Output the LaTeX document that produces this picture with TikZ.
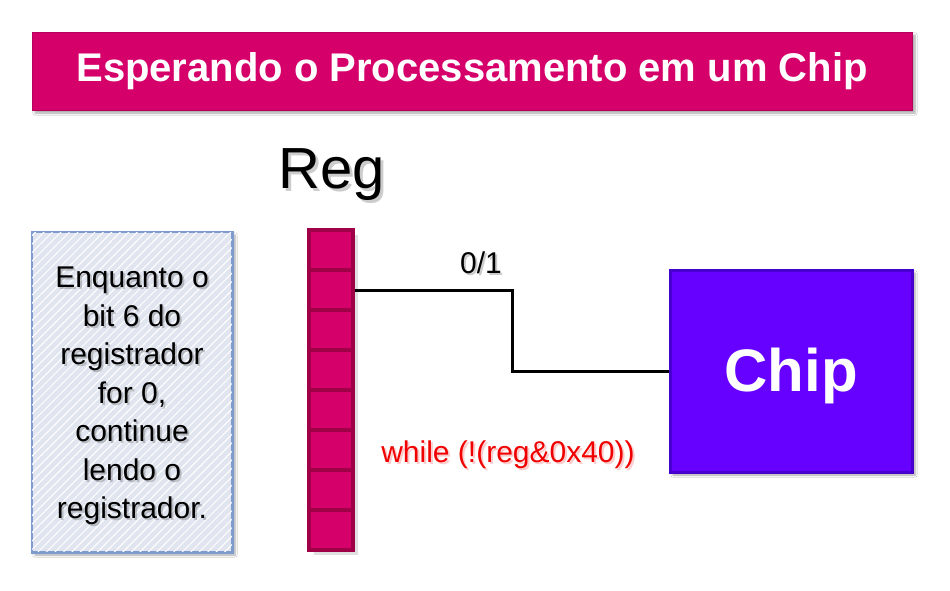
\documentclass[tikz,border=0pt]{standalone}
\usepackage{fontspec}
\setmainfont{Liberation Sans}
\usetikzlibrary{shadows.blur,patterns.meta}

\definecolor{magentaA}{RGB}{214,0,107}
\definecolor{magentaB}{RGB}{160,0,72}
\definecolor{chipfill}{RGB}{102,0,255}
\definecolor{chipedge}{RGB}{70,0,205}
\definecolor{notefill}{RGB}{224,229,240}
\definecolor{noteedge}{RGB}{128,156,205}
\definecolor{codered}{RGB}{240,0,0}

\tikzset{
  softshadow/.style={blur shadow={shadow xshift=3pt, shadow yshift=-3pt, shadow blur steps=6, shadow opacity=35}},
  titlebox/.style={rectangle, fill=magentaA, draw=magentaA!85!black, line width=1pt,
    minimum width=880, minimum height=78, text=white,
    font=\fontsize{40}{48}\selectfont\bfseries, softshadow},
  regcell/.style={rectangle, fill=magentaA, draw=magentaB, line width=4pt,
    minimum width=44, minimum height=40, inner sep=0pt},
  notebox/.style={rectangle, fill=notefill, draw=noteedge, line width=1.5pt,
    minimum width=200, minimum height=320, softshadow},
  chipbox/.style={rectangle, fill=chipfill, draw=chipedge, line width=3pt,
    minimum width=242, minimum height=202, softshadow},
  wire/.style={draw=black, line width=3pt},
  txtshadow/.style={text=black, opacity=0.2},
  bigfont/.style={font=\fontsize{58}{60}\selectfont},
  notefont/.style={align=center, font=\fontsize{30}{38.5}\selectfont},
  labelfont/.style={font=\fontsize{30}{36}\selectfont},
}

\begin{document}
\begin{tikzpicture}[x=1pt, y=-1pt]
  \useasboundingbox (0,0) rectangle (950,590);
  \fill[white] (0,0) rectangle (950,590);

  % title banner
  \node[titlebox] (title) at (472,71) {Esperando o Processamento em um Chip};

  % register caption, with a soft drop shadow
  \node[txtshadow, bigfont] at (335,178) {Reg};
  \node[bigfont] (reglabel) at (332,175) {Reg};

  % explanatory note with hatched fill
  \node[notebox] (note) at (132,392) {};
  \fill[pattern={Lines[angle=45, distance=6pt, line width=1pt]}, pattern color=white]
    (note.south west) rectangle (note.north east);
  \draw[noteedge, line width=1.5pt] (note.south west) rectangle (note.north east);
  \node[txtshadow, notefont] at (134,398)
    {Enquanto o\\bit 6 do\\registrador\\for 0,\\continue\\lendo o\\registrador.};
  \node[notefont] (notetext) at (132,396)
    {Enquanto o\\bit 6 do\\registrador\\for 0,\\continue\\lendo o\\registrador.};

  % register: eight stacked bit cells
  \fill[black, opacity=0.12] (314,235) rectangle (358,555);
  \foreach \i in {1,...,8} {
    \node[regcell] (c\i) at (331,{210+40*\i}) {};
  }

  % chip block
  \node[chipbox] (chip) at (791,371) {};
  \node[text=white, font=\fontsize{60}{72}\selectfont\bfseries] (chiplabel) at (791,376) {Chip};

  % signal wire from the register to the chip
  \coordinate (bend) at (512,290);
  \draw[wire] (c2.east) -- (bend) |- (chip.west);

  % wire value label
  \node[txtshadow, labelfont] at (483,265) {0/1};
  \node[labelfont] (bitval) at (481,263) {0/1};

  % polling loop code
  \node[text=codered, opacity=0.2, labelfont] at (510,457) {while (!(reg\&0x40))};
  \node[text=codered, labelfont] (code) at (508,455) {while (!(reg\&0x40))};
\end{tikzpicture}
\end{document}
